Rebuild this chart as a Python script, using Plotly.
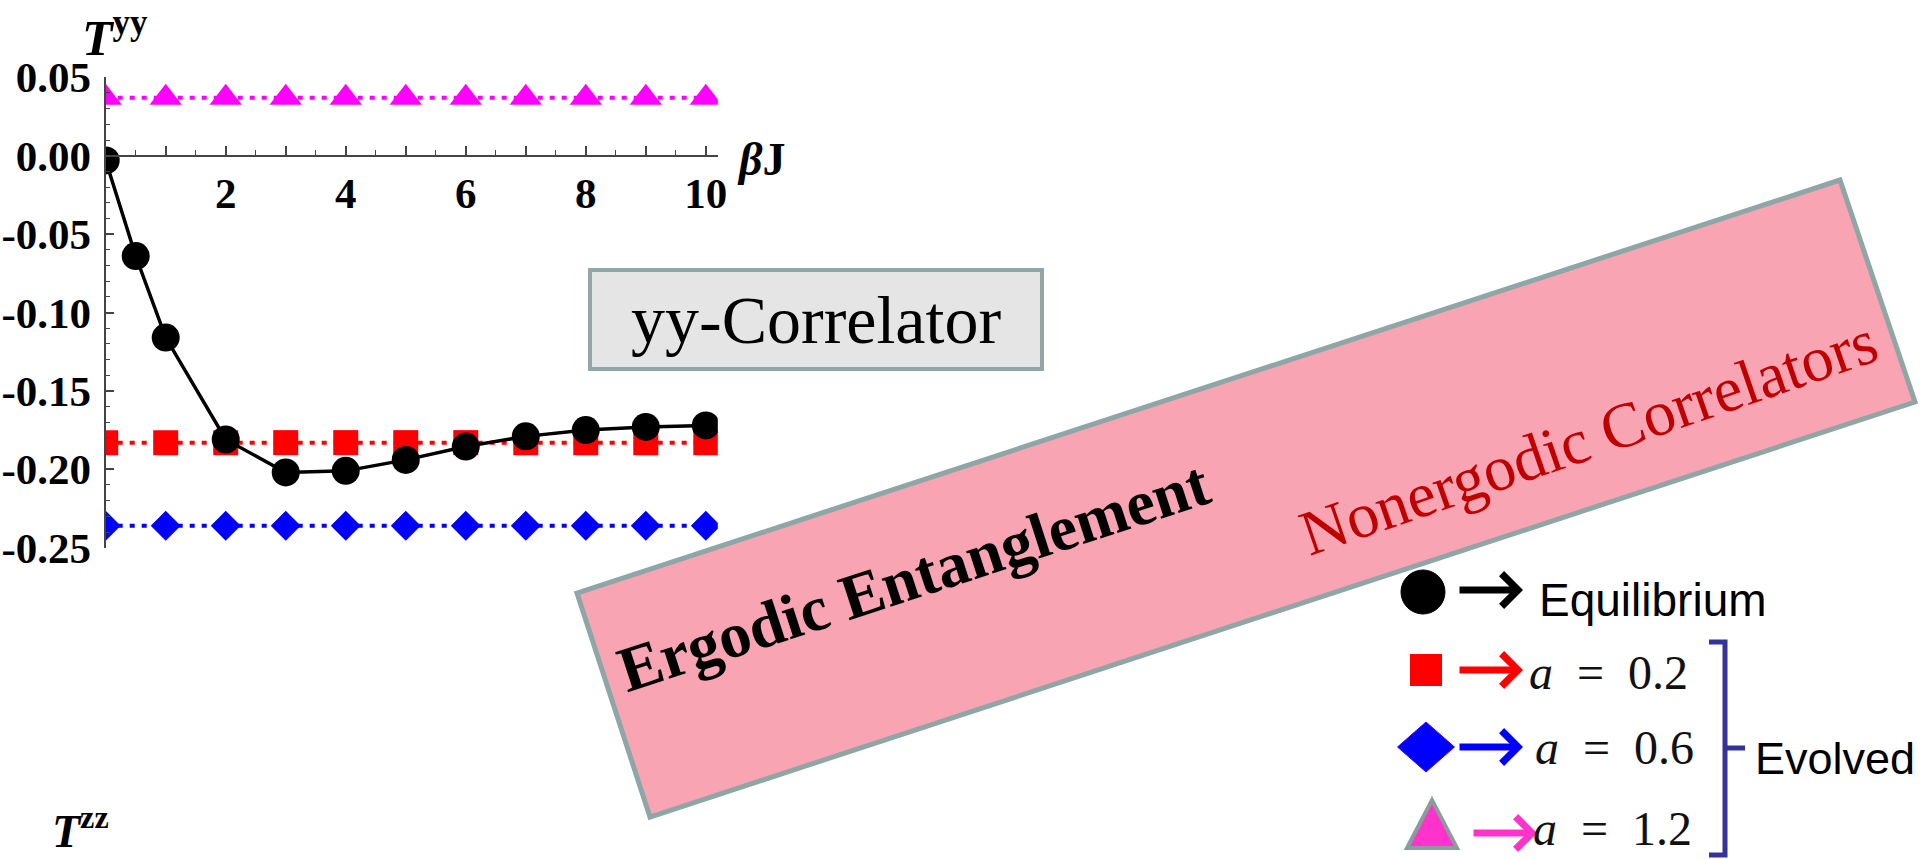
import plotly.graph_objects as go

W, H = 1920, 859

# ---------------- data ----------------
beta_eq = [0, 0.5, 1, 2, 3, 4, 5, 6, 7, 8, 9, 10]
T_eq = [-0.003, -0.064, -0.116, -0.181, -0.202, -0.201, -0.194, -0.1855, -0.179, -0.175, -0.173, -0.172]

beta_ev = [0, 1, 2, 3, 4, 5, 6, 7, 8, 9, 10]
T_a02 = [-0.183, -0.183, -0.183, -0.183, -0.183, -0.183, -0.183, -0.183, -0.183, -0.183, -0.183]
T_a06 = [-0.236, -0.236, -0.236, -0.236, -0.236, -0.236, -0.236, -0.236, -0.236, -0.236, -0.236]
T_a12 = [0.037, 0.037, 0.037, 0.037, 0.037, 0.037, 0.037, 0.037, 0.037, 0.037, 0.037]

x_tickvals = [1, 2, 3, 4, 5, 6, 7, 8, 9, 10]
x_ticktext = ["", "2", "", "4", "", "6", "", "8", "", "10"]
y_tickvals = [-0.25, -0.20, -0.15, -0.10, -0.05, 0.00, 0.05]
y_ticktext = ["-0.25", "-0.20", "-0.15", "-0.10", "-0.05", "0.00", "0.05"]

legend_labels = ["Equilibrium", "a = 0.2", "a = 0.6", "a = 1.2"]

# ---------------- helpers (pixel -> paper) ----------------
def px(x):
    return x / W


def py(y):
    return 1 - y / H


SERIF = "Liberation Serif"
SANS = "Liberation Sans"

x_dom = [px(105.7), px(717.8)]
y_dom = [py(547.7), py(77.3)]
y_range = [-0.25, 0.05]
x_axis_pos = y_dom[0] + (0 - y_range[0]) / (y_range[1] - y_range[0]) * (y_dom[1] - y_dom[0])

fig = go.Figure()

dots = "5px,7px"
fig.add_trace(go.Scatter(x=beta_ev, y=T_a12, mode="lines+markers",
                         line=dict(color="#ff00ff", width=4, dash=dots),
                         marker=dict(symbol="triangle-up", size=28, color="#ff00ff"),
                         showlegend=False))
fig.add_trace(go.Scatter(x=beta_ev, y=T_a02, mode="lines+markers",
                         line=dict(color="#ff0000", width=4, dash=dots),
                         marker=dict(symbol="square", size=25, color="#ff0000"),
                         showlegend=False))
fig.add_trace(go.Scatter(x=beta_ev, y=T_a06, mode="lines+markers",
                         line=dict(color="#0000ff", width=4, dash=dots),
                         marker=dict(symbol="diamond", size=23, color="#0000ff"),
                         showlegend=False))
fig.add_trace(go.Scatter(x=beta_eq, y=T_eq, mode="lines+markers",
                         line=dict(color="black", width=3.5),
                         marker=dict(symbol="circle", size=28, color="black"),
                         showlegend=False))

tickfont = dict(family=SERIF, size=43, color="black", weight="bold")

fig.update_layout(
    template="none",
    width=W, height=H,
    margin=dict(l=0, r=0, t=0, b=0, pad=0, autoexpand=False),
    paper_bgcolor="white", plot_bgcolor="white",
    showlegend=False,
    xaxis=dict(domain=x_dom, range=[0, 10.2], anchor="free", position=x_axis_pos,
               automargin=False,
               showgrid=False, zeroline=False, showline=True, linecolor="#444", linewidth=2,
               ticks="inside", ticklen=9, tickwidth=1.5, tickcolor="#444",
               tickvals=x_tickvals, ticktext=x_ticktext, tickfont=tickfont,
               ticklabelstandoff=0,
               minor=dict(dtick=0.5, tick0=0, ticks="inside", ticklen=5, tickcolor="#444", tickwidth=1.2)),
    yaxis=dict(domain=y_dom, range=y_range, anchor="x",
               automargin=False,
               showgrid=False, zeroline=False, showline=True, linecolor="#444", linewidth=2,
               ticks="inside", ticklen=8, tickwidth=1.5, tickcolor="#444",
               tickvals=y_tickvals, ticktext=y_ticktext, tickfont=tickfont,
               ticklabelstandoff=4,
               minor=dict(dtick=0.01, tick0=0, ticks="inside", ticklen=4, tickcolor="#444", tickwidth=1.2)),
)

shapes = []
# rotated pink band
band = [(577, 593), (1840, 180), (1915, 402), (650, 817)]
path = "M " + " L ".join(f"{px(a):.5f},{py(b):.5f}" for a, b in band) + " Z"
shapes.append(dict(type="path", path=path, xref="paper", yref="paper",
                   fillcolor="#f8a4b3", line=dict(color="#8fa6a6", width=5), layer="below"))
# yy-Correlator box
shapes.append(dict(type="rect", xref="paper", yref="paper",
                   x0=px(590), x1=px(1042), y0=py(369), y1=py(270),
                   fillcolor="#e5e5e5", line=dict(color="#8fa7a7", width=4)))
# legend symbols
shapes.append(dict(type="circle", xref="paper", yref="paper",
                   x0=px(1401), x1=px(1445), y0=py(614), y1=py(570),
                   fillcolor="black", line=dict(color="black", width=1)))
shapes.append(dict(type="rect", xref="paper", yref="paper",
                   x0=px(1410), x1=px(1442), y0=py(686), y1=py(654),
                   fillcolor="#ff0000", line=dict(width=0)))
dia = [(1397.5, 747), (1426, 722), (1454.5, 747), (1426, 772)]
shapes.append(dict(type="path", xref="paper", yref="paper",
                   path="M " + " L ".join(f"{px(a):.5f},{py(b):.5f}" for a, b in dia) + " Z",
                   fillcolor="#0000ff", line=dict(color="#4b00ff", width=1)))
tri = [(1407, 848), (1432, 800), (1457, 848)]
shapes.append(dict(type="path", xref="paper", yref="paper",
                   path="M " + " L ".join(f"{px(a):.5f},{py(b):.5f}" for a, b in tri) + " Z",
                   fillcolor="#ff33cc", line=dict(color="#8c9c9c", width=4)))
# bracket
br = [(1709, 642), (1725, 642), (1725, 855), (1709, 855)]
shapes.append(dict(type="path", xref="paper", yref="paper",
                   path="M " + " L ".join(f"{px(a):.5f},{py(b):.5f}" for a, b in br),
                   line=dict(color="#333399", width=5)))
shapes.append(dict(type="line", xref="paper", yref="paper",
                   x0=px(1725), x1=px(1745), y0=py(748), y1=py(748),
                   line=dict(color="#333399", width=5)))
fig.update_layout(shapes=shapes)

ann = []
ann.append(dict(text="<b><i>T</i><sup>yy</sup></b>", x=px(80), y=py(34), xref="paper", yref="paper",
                xanchor="left", yanchor="middle", showarrow=False,
                font=dict(family=SERIF, size=50, color="black")))
ann.append(dict(text="<b><i>T</i><sup>zz</sup></b>", x=px(50), y=py(859), xref="paper", yref="paper",
                xanchor="left", yanchor="bottom", showarrow=False,
                font=dict(family=SERIF, size=46, color="black")))
ann.append(dict(text="<b><i>β</i>J</b>", x=px(735), y=py(160), xref="paper", yref="paper",
                xanchor="left", yanchor="middle", showarrow=False,
                font=dict(family=SERIF, size=46, color="black")))
ann.append(dict(text="yy-Correlator", x=px(816), y=py(320), xref="paper", yref="paper",
                xanchor="center", yanchor="middle", showarrow=False,
                font=dict(family=SERIF, size=68, color="black")))
ann.append(dict(text="<b>Ergodic Entanglement</b>", x=px(914), y=py(576), xref="paper", yref="paper",
                xanchor="center", yanchor="middle", showarrow=False, textangle=-18,
                font=dict(family=SERIF, size=64, color="black")))
ann.append(dict(text="Nonergodic Correlators", x=px(1588), y=py(437), xref="paper", yref="paper",
                xanchor="center", yanchor="middle", showarrow=False, textangle=-19,
                font=dict(family=SERIF, size=64, color="#c00000")))

# legend arrows
for (tx, ty, length, col) in [(1523, 590, 65, "black"), (1523, 670, 65, "#ff0000"),
                              (1523, 747, 65, "#0000ff"), (1537, 833, 65, "#ff33cc")]:
    ann.append(dict(text="", x=px(tx), y=py(ty), xref="paper", yref="paper",
                    showarrow=True, ax=-length, ay=0, arrowhead=4, arrowsize=0.9,
                    arrowwidth=7, arrowcolor=col, standoff=0))

nb = "\u00a0"
ann.append(dict(text=legend_labels[0], x=px(1537), y=py(600), xref="paper", yref="paper",
                xanchor="left", yanchor="middle", showarrow=False,
                font=dict(family=SANS, size=46, color="black")))
for lab, lx, ly in [(legend_labels[1], 1527, 672), (legend_labels[2], 1533, 747), (legend_labels[3], 1531, 828)]:
    a, eq, v = lab.split(" ")
    txt = f"<i>{a}</i>{nb*2}{eq}{nb*2}{v}"
    ann.append(dict(text=txt, x=px(lx), y=py(ly), xref="paper", yref="paper",
                    xanchor="left", yanchor="middle", showarrow=False,
                    font=dict(family=SERIF, size=48, color="#111")))
ann.append(dict(text="Evolved", x=px(1753), y=py(758), xref="paper", yref="paper",
                xanchor="left", yanchor="middle", showarrow=False,
                font=dict(family=SANS, size=45, color="black")))
fig.update_layout(annotations=ann)

fig.write_html("out.html", config=dict(displayModeBar=False),
               post_script="document.body.style.margin='0';document.body.style.overflow='hidden';")
